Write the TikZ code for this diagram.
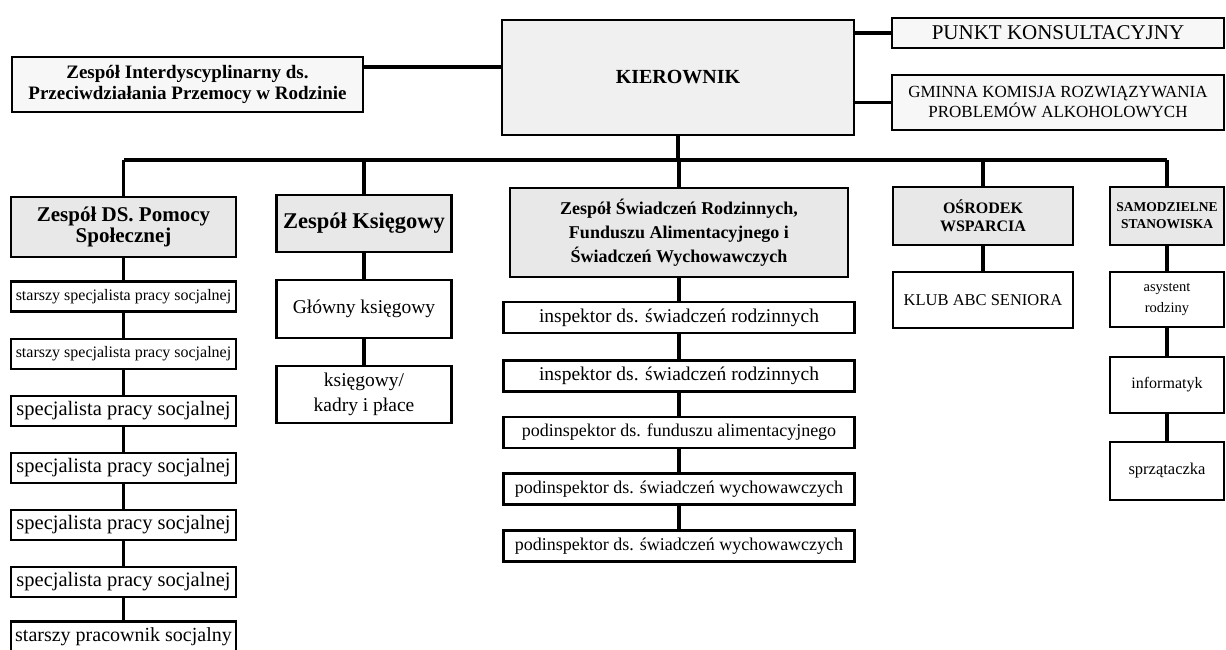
\documentclass[tikz,border=0pt]{standalone}
\usepackage{fontspec}
\setmainfont{Liberation Serif}
\newcommand\fsz[2]{\fontsize{#1}{#2}\selectfont}
\begin{document}
\begin{tikzpicture}[x=1pt,y=-1pt,
    box/.style={draw, line width=2.4pt, inner sep=0pt, align=center, fill=white},
    head/.style={box, fill=black!9},
    link/.style={line width=3.2pt}]
  \useasboundingbox (0,0) rectangle (1226,650);
  % top level
  \node[box, fill=black!3, font=\bfseries\fsz{19}{21}, minimum width=351pt, minimum height=55pt] (inter) at (187.5,84.5) {Zespół Interdyscyplinarny ds.\\Przeciwdziałania Przemocy w Rodzinie};
  \node[box, fill=black!6, font=\bfseries\fsz{20}{22}, minimum width=352pt, minimum height=115pt] (kier) at (678,77.5) {KIEROWNIK};
  \node[box, fill=black!3, font=\fsz{21}{23}, minimum width=332pt, minimum height=30pt] (punkt) at (1058,33) {PUNKT KONSULTACYJNY};
  \node[box, fill=black!3, font=\fsz{17}{20}, minimum width=332pt, minimum height=55pt] (gminna) at (1058,102.5) {GMINNA KOMISJA ROZWIĄZYWANIA\\PROBLEMÓW ALKOHOLOWYCH};
  % teams
  \node[head, font=\bfseries\fsz{21}{21}, minimum width=225pt, minimum height=60pt] (pomoc) at (123.5,227) {Zespół DS. Pomocy\\Społecznej};
  \node[head, font=\bfseries\fsz{22.5}{24}, minimum width=175pt, minimum height=57pt] (ksieg) at (364,223.5) {Zespół Księgowy};
  \node[head, font=\bfseries\fsz{18}{24}, minimum width=338pt, minimum height=89pt] (swiad) at (679,232.5) {Zespół Świadczeń Rodzinnych,\\Funduszu Alimentacyjnego i\\Świadczeń Wychowawczych};
  \node[head, font=\bfseries\fsz{16}{18}, minimum width=180pt, minimum height=58pt] (osr) at (983,216) {OŚRODEK\\WSPARCIA};
  \node[head, font=\bfseries\fsz{13.5}{17}, minimum width=114pt, minimum height=58pt] (samo) at (1167,216) {SAMODZIELNE\\STANOWISKA};
  % social help
  \node[box, font=\fsz{16}{18}, minimum width=225pt, minimum height=30pt] (p1) at (123.5,296.5) {starszy specjalista pracy socjalnej};
  \node[box, font=\fsz{16}{18}, minimum width=225pt, minimum height=30pt] (p2) at (123.5,354) {starszy specjalista pracy socjalnej};
  \node[box, font=\fsz{20.5}{22}, minimum width=225pt, minimum height=30pt] (p3) at (123.5,411) {specjalista pracy socjalnej};
  \node[box, font=\fsz{20.5}{22}, minimum width=225pt, minimum height=30pt] (p4) at (123.5,468) {specjalista pracy socjalnej};
  \node[box, font=\fsz{20.5}{22}, minimum width=225pt, minimum height=30pt] (p5) at (123.5,525) {specjalista pracy socjalnej};
  \node[box, font=\fsz{20.5}{22}, minimum width=225pt, minimum height=30pt] (p6) at (123.5,582) {specjalista pracy socjalnej};
  \node[box, font=\fsz{20}{22}, minimum width=225pt, minimum height=30pt] (p7) at (123.5,636.5) {starszy pracownik socjalny};
  % accounting
  \node[box, font=\fsz{19.5}{25}, minimum width=175pt, minimum height=58pt] (k1) at (364,309) {Główny księgowy};
  \node[box, font=\fsz{19.5}{25}, minimum width=175pt, minimum height=57pt] (k2) at (364,394.5) {księgowy/\\kadry i płace};
  % benefits
  \node[box, font=\fsz{19.5}{21}, minimum width=351pt, minimum height=31pt] (m1) at (679,317.5) {inspektor ds. świadczeń rodzinnych};
  \node[box, font=\fsz{19.5}{21}, minimum width=351pt, minimum height=31pt] (m2) at (679,376) {inspektor ds. świadczeń rodzinnych};
  \node[box, font=\fsz{18}{20}, minimum width=351pt, minimum height=31pt] (m3) at (679,432.5) {podinspektor ds. funduszu alimentacyjnego};
  \node[box, font=\fsz{18}{20}, minimum width=351pt, minimum height=31pt] (m4) at (679,489) {podinspektor ds. świadczeń wychowawczych};
  \node[box, font=\fsz{18}{20}, minimum width=351pt, minimum height=31pt] (m5) at (679,546) {podinspektor ds. świadczeń wychowawczych};
  % support centre and posts
  \node[box, font=\fsz{16.5}{18}, minimum width=180pt, minimum height=56pt] (klub) at (983,300) {KLUB ABC SENIORA};
  \node[box, font=\fsz{14.5}{21}, minimum width=114pt, minimum height=55pt] (s1) at (1167,299.5) {asystent\\rodziny};
  \node[box, font=\fsz{16}{18}, minimum width=114pt, minimum height=56pt] (s2) at (1167,385) {informatyk};
  \node[box, font=\fsz{16.5}{18}, minimum width=114pt, minimum height=58pt] (s3) at (1167,471) {sprzątaczka};
  % connectors
  \coordinate (lvl) at (0,67);
  \coordinate (bus) at (0,160);
  \draw[link] (inter.east |- lvl) -- (kier.west |- lvl);
  \draw[link] (kier.east |- punkt.west) -- (punkt.west);
  \draw[link] (kier.east |- gminna.west) -- (gminna.west);
  \draw[link] (kier.south) -- (kier.south |- bus);
  \draw[link] (pomoc.north |- bus) -- (samo.north |- bus);
  \foreach \n in {pomoc,ksieg,swiad,osr,samo}
    \draw[link] (\n.north |- bus) -- (\n.north);
  \foreach \a/\b in {pomoc/p1,p1/p2,p2/p3,p3/p4,p4/p5,p5/p6,p6/p7,ksieg/k1,k1/k2,swiad/m1,m1/m2,m2/m3,m3/m4,m4/m5,osr/klub,samo/s1,s1/s2,s2/s3}
    \draw[link] (\a) -- (\b);
\end{tikzpicture}
\end{document}
